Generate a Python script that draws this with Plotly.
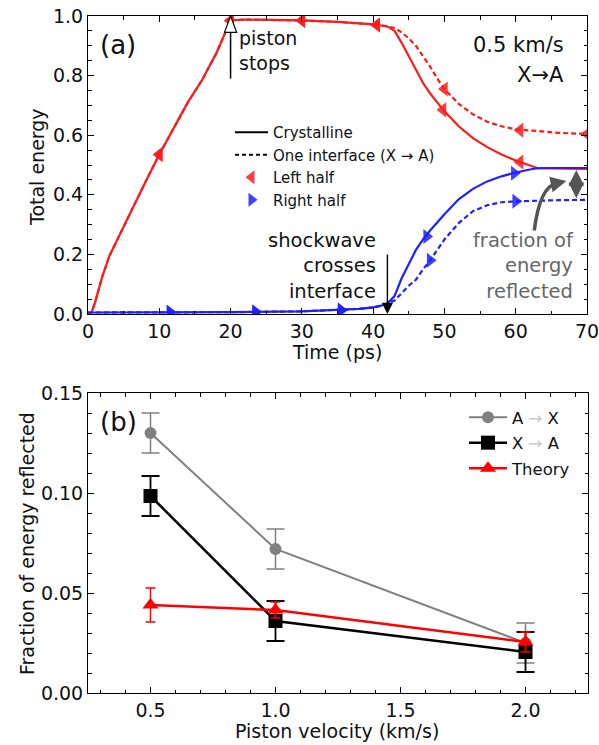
import plotly.graph_objects as go

# ---------------- data: panel (a) ----------------
t_left_cryst = [0, 0.5, 1, 2, 3, 4, 6, 8, 10, 12, 14, 16, 18, 19, 20, 22, 25, 30, 35, 40, 42, 43, 44, 45, 46, 47, 48, 50, 52, 54, 56, 58, 60, 62, 63, 65, 70]
e_left_cryst = [0.0, 0.005, 0.04, 0.125, 0.195, 0.245, 0.345, 0.44, 0.535, 0.625, 0.71, 0.785, 0.875, 0.93, 0.985, 0.988, 0.987, 0.985, 0.98, 0.972, 0.965, 0.95, 0.91, 0.865, 0.815, 0.775, 0.74, 0.68, 0.63, 0.59, 0.56, 0.535, 0.515, 0.497, 0.49, 0.489, 0.487]

t_left_int = [0, 0.5, 1, 2, 3, 4, 6, 8, 10, 12, 14, 16, 18, 19, 20, 22, 25, 30, 35, 40, 42, 43, 44, 45, 46, 47, 48, 49, 50, 52, 54, 56, 58, 60, 63, 66, 70]
e_left_int = [0.0, 0.005, 0.04, 0.125, 0.195, 0.245, 0.345, 0.44, 0.535, 0.625, 0.71, 0.785, 0.875, 0.93, 0.985, 0.988, 0.987, 0.985, 0.98, 0.972, 0.965, 0.96, 0.945, 0.925, 0.9, 0.865, 0.83, 0.79, 0.755, 0.705, 0.67, 0.645, 0.63, 0.62, 0.613, 0.608, 0.604]

t_right_cryst = [0, 10, 20, 30, 35, 38, 40, 41, 42, 43, 44, 45, 46, 47, 48, 50, 52, 54, 56, 58, 60, 62, 63, 65, 70]
e_right_cryst = [0.005, 0.005, 0.006, 0.009, 0.013, 0.017, 0.022, 0.027, 0.035, 0.06, 0.12, 0.17, 0.215, 0.25, 0.28, 0.335, 0.385, 0.42, 0.445, 0.462, 0.475, 0.485, 0.489, 0.49, 0.49]

t_right_int = [0, 10, 20, 30, 35, 38, 40, 41, 42, 43, 44, 45, 46, 47, 48, 49, 50, 52, 54, 56, 58, 60, 63, 66, 70]
e_right_int = [0.005, 0.005, 0.006, 0.009, 0.013, 0.017, 0.022, 0.027, 0.035, 0.045, 0.07, 0.095, 0.115, 0.15, 0.18, 0.215, 0.25, 0.305, 0.345, 0.365, 0.375, 0.378, 0.381, 0.382, 0.383]

# marker positions (markevery-style)
tm_left_cryst = [10, 20, 30, 40.5, 49.8, 60.6]
em_left_cryst = [0.535, 0.985, 0.985, 0.97, 0.685, 0.51]
tm_left_int = [10, 20, 30, 40.5, 50, 60.6, 70]
em_left_int = [0.535, 0.985, 0.985, 0.97, 0.755, 0.617, 0.604]
tm_right_cryst = [11.5, 23.5, 35.5, 47.5, 59.8]
em_right_cryst = [0.006, 0.007, 0.013, 0.26, 0.472]
tm_right_int = [11.5, 23.5, 35.5, 48, 60]
em_right_int = [0.006, 0.007, 0.013, 0.18, 0.378]

# ---------------- data: panel (b) ----------------
velocity = [0.5, 1.0, 2.0]
a_to_x = [0.130, 0.072, 0.025]
a_to_x_err = [0.010, 0.010, 0.010]
x_to_a = [0.0985, 0.036, 0.0205]
x_to_a_err = [0.010, 0.010, 0.010]
theory = [0.044, 0.0415, 0.0255]
theory_err = [0.0085, 0.004, 0.005]

RED = "#ff1a1a"
BLUE = "#1f1fff"
GRAY = "#808080"
FONT = "DejaVu Sans"
W, H = 599, 745


def PX(x):
    return x / W


def PY(y):
    return 1 - y / H


fig = go.Figure()

# panel (a) lines
fig.add_trace(go.Scatter(x=t_left_cryst, y=e_left_cryst, mode="lines",
                         line=dict(color=RED, width=2.2), showlegend=False, xaxis="x", yaxis="y"))
fig.add_trace(go.Scatter(x=t_left_int, y=e_left_int, mode="lines",
                         line=dict(color=RED, width=2.2, dash="5px,3px"), showlegend=False, xaxis="x", yaxis="y"))
fig.add_trace(go.Scatter(x=t_right_cryst, y=e_right_cryst, mode="lines",
                         line=dict(color=BLUE, width=2.2), showlegend=False, xaxis="x", yaxis="y"))
fig.add_trace(go.Scatter(x=t_right_int, y=e_right_int, mode="lines",
                         line=dict(color=BLUE, width=2.2, dash="5px,3px"), showlegend=False, xaxis="x", yaxis="y"))
# panel (a) markers
for tx, ey, sym, col in [(tm_left_cryst, em_left_cryst, "triangle-left", RED),
                         (tm_left_int, em_left_int, "triangle-left", RED),
                         (tm_right_cryst, em_right_cryst, "triangle-right", BLUE),
                         (tm_right_int, em_right_int, "triangle-right", BLUE)]:
    fig.add_trace(go.Scatter(x=tx, y=ey, mode="markers",
                             marker=dict(symbol=sym, size=13, color=col, opacity=0.85, line=dict(width=0)),
                             showlegend=False, xaxis="x", yaxis="y"))

# legend (a) entries
fig.add_trace(go.Scatter(x=[None], y=[None], mode="lines", name="Crystalline",
                         line=dict(color="black", width=2), legend="legend", legendgroup="a1", xaxis="x", yaxis="y"))
fig.add_trace(go.Scatter(x=[None], y=[None], mode="lines", name="One interface (X → A)",
                         line=dict(color="black", width=2, dash="4px,3px"), legend="legend", legendgroup="a2", xaxis="x", yaxis="y"))
fig.add_trace(go.Scatter(x=[None], y=[None], mode="markers", name="Left half",
                         marker=dict(symbol="triangle-left", size=12, color=RED, opacity=0.85), legend="legend", legendgroup="a3", xaxis="x", yaxis="y"))
fig.add_trace(go.Scatter(x=[None], y=[None], mode="markers", name="Right half",
                         marker=dict(symbol="triangle-right", size=12, color=BLUE, opacity=0.85), legend="legend", legendgroup="a4", xaxis="x", yaxis="y"))

# panel (b)
fig.add_trace(go.Scatter(x=velocity, y=a_to_x, mode="lines+markers", name="A <span style='color:#c8c8c8'>→</span> X",
                         line=dict(color=GRAY, width=2),
                         marker=dict(symbol="circle", size=12, color=GRAY),
                         error_y=dict(type="data", array=a_to_x_err, color=GRAY, thickness=1.5, width=9),
                         legend="legend2", legendgroup="b1", xaxis="x2", yaxis="y2"))
fig.add_trace(go.Scatter(x=velocity, y=x_to_a, mode="lines+markers", name="X <span style='color:#c8c8c8'>→</span> A",
                         line=dict(color="black", width=2.5),
                         marker=dict(symbol="square", size=14, color="black"),
                         error_y=dict(type="data", array=x_to_a_err, color="black", thickness=1.8, width=9),
                         legend="legend2", legendgroup="b2", xaxis="x2", yaxis="y2"))
fig.add_trace(go.Scatter(x=velocity, y=theory, mode="lines+markers", name="Theory",
                         line=dict(color="red", width=2.5),
                         marker=dict(symbol="triangle-up", size=14, color="red"),
                         error_y=dict(type="data", array=theory_err, color="red", thickness=1.5, width=5),
                         legend="legend2", legendgroup="b3", xaxis="x2", yaxis="y2"))

axis_common = dict(showline=True, linecolor="black", linewidth=1, mirror="ticks", ticks="inside",
                   tickcolor="black", showgrid=False, zeroline=False, automargin=False,
                   ticklabeloverflow="allow",
                   tickfont=dict(family=FONT, size=19, color="#111"))

fig.update_layout(
    template="none",
    width=W, height=H,
    margin=dict(l=0, r=0, t=0, b=0, pad=0),
    paper_bgcolor="white", plot_bgcolor="white",
    font=dict(family=FONT, color="#111"),
    xaxis=dict(domain=[PX(88), PX(587)], range=[0, 70], anchor="y", tickvals=[0, 10, 20, 30, 40, 50, 60, 70],
               ticklen=6, minor=dict(dtick=5, ticks="inside", ticklen=3.5, tickcolor="black"), **axis_common),
    yaxis=dict(domain=[PY(314), PY(16)], range=[0, 1.0], anchor="x", tickvals=[0, 0.2, 0.4, 0.6, 0.8, 1.0],
               tickformat=".1f", ticklen=6, minor=dict(dtick=0.05, ticks="inside", ticklen=3.5, tickcolor="black"), **axis_common),
    xaxis2=dict(domain=[PX(88), PX(588)], range=[0.25, 2.25], anchor="y2", tickvals=[0.5, 1.0, 1.5, 2.0],
                tickformat=".1f", ticklen=6, minor=dict(dtick=0.1, tick0=0.3, ticks="inside", ticklen=3.5, tickcolor="black"), **axis_common),
    yaxis2=dict(domain=[PY(693), PY(393)], range=[0, 0.15], anchor="x2", tickvals=[0, 0.05, 0.10, 0.15],
                tickformat=".2f", ticklen=6, minor=dict(dtick=0.01, ticks="inside", ticklen=3.5, tickcolor="black"), **axis_common),
    legend=dict(x=PX(230), y=PY(116), xanchor="left", yanchor="top", bgcolor="rgba(0,0,0,0)", borderwidth=0,
                font=dict(family=FONT, size=15, color="#111"), tracegroupgap=0, traceorder="grouped", itemwidth=33),
    legend2=dict(x=PX(464), y=PY(400), xanchor="left", yanchor="top", bgcolor="rgba(0,0,0,0)", borderwidth=0,
                 font=dict(family=FONT, size=16.5, color="#111"), tracegroupgap=1, traceorder="grouped", itemwidth=38),
)

annotations = [
    dict(x=PX(118), y=PY(45), text="(a)", font=dict(size=26)),
    dict(x=PX(566), y=PY(45), text="0.5 km/s", xanchor="right", font=dict(size=21)),
    dict(x=PX(566), y=PY(75), text="X→A", xanchor="right", font=dict(size=21)),
    dict(x=PX(237), y=PY(51), text="piston<br>stops", xanchor="left", align="left", font=dict(size=19)),
    dict(x=PX(378), y=PY(266), text="shockwave<br>crosses<br>interface", xanchor="right", align="right", font=dict(size=19.5)),
    dict(x=PX(576), y=PY(266), text="fraction of<br>energy<br>reflected", xanchor="right", align="right",
         font=dict(size=19.5, color="#666")),
    dict(x=PX(118), y=PY(422), text="(b)", font=dict(size=26)),
    dict(x=PX(37), y=PY(167), text="Total energy", textangle=-90, font=dict(size=19)),
    dict(x=PX(337), y=PY(352), text="Time (ps)", font=dict(size=19)),
    dict(x=PX(27), y=PY(544), text="Fraction of energy reflected", textangle=-90, font=dict(size=19)),
    dict(x=PX(337), y=PY(731), text="Piston velocity (km/s)", font=dict(size=19)),
]
for a in annotations:
    a.update(xref="paper", yref="paper", showarrow=False)
    a.setdefault("xanchor", "center")
    a["yanchor"] = "middle"
    a["font"] = dict(family=FONT, color=a["font"].get("color", "#111"), size=a["font"]["size"])

# arrows
annotations += [
    dict(x=42, y=0.0, ax=42, ay=0.205, xref="x", yref="y", axref="x", ayref="y", text="",
         showarrow=True, arrowhead=2, arrowsize=1.6, arrowwidth=1.4, arrowcolor="black"),
    dict(x=68.5, y=0.483, ax=68.5, ay=0.383, xref="x", yref="y", axref="x", ayref="y", text="",
         showarrow=True, arrowhead=2, arrowside="end+start", arrowsize=0.9, arrowwidth=3.5, arrowcolor="#555"),
    dict(x=67.1, y=0.446, ax=65.6, ay=0.438, xref="x", yref="y", axref="x", ayref="y", text="",
         showarrow=True, arrowhead=2, arrowsize=0.9, arrowwidth=3.5, arrowcolor="#555"),
]
fig.update_layout(annotations=annotations)

shapes = [
    dict(type="line", xref="x", yref="y", x0=20, x1=20, y0=0.79, y1=0.945, line=dict(color="black", width=1.5)),
    dict(type="path", xref="x", yref="y", path="M 19.15,0.945 L 20.85,0.945 L 20,1.0 Z",
         fillcolor="white", line=dict(color="black", width=1.2)),
    dict(type="path", xref="x", yref="y", path="M 62.6,0.28 Q 63.4,0.43 65.8,0.438",
         line=dict(color="#555", width=3.5)),
]
fig.update_layout(shapes=shapes)

fig.write_html("out.html")
